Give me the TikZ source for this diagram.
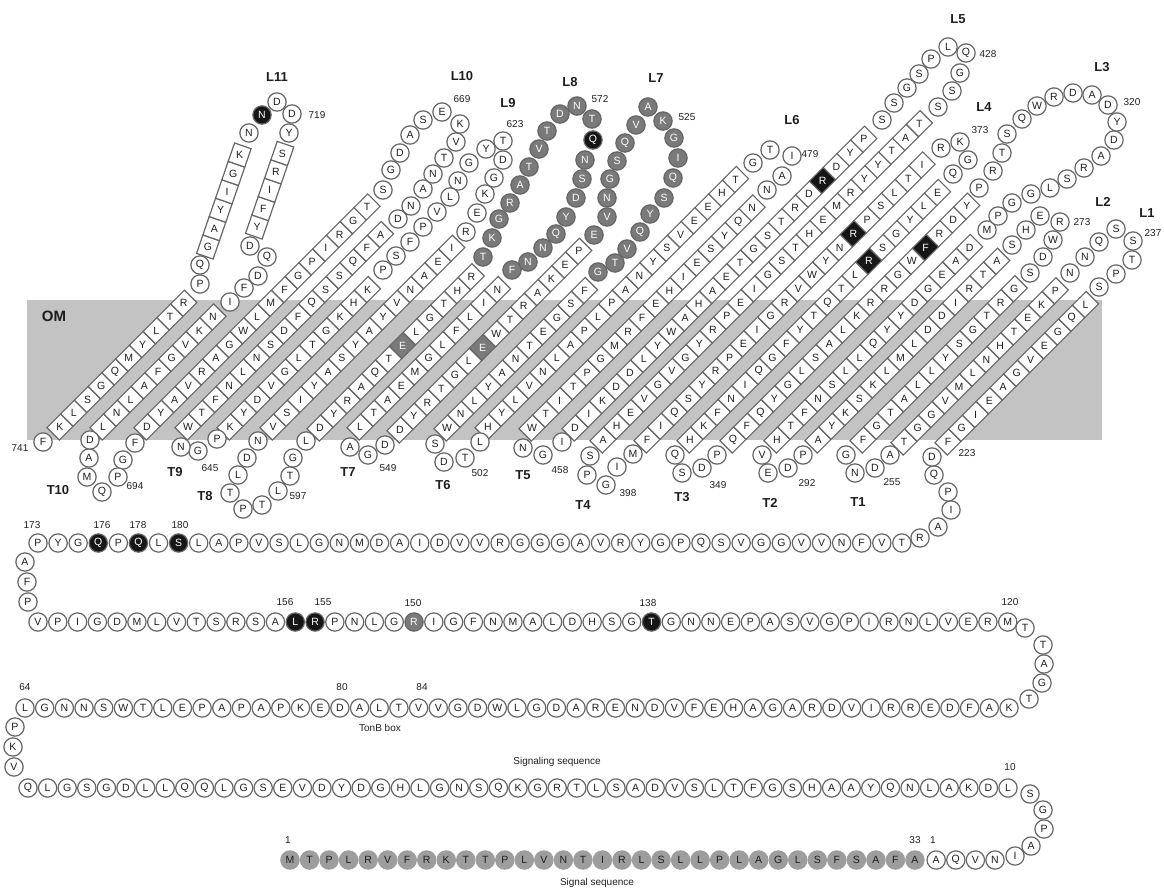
\documentclass[tikz,border=0pt]{standalone}
\usepackage{fontspec}
\setmainfont{Liberation Sans}
\usetikzlibrary{positioning}
\definecolor{Edge}{HTML}{666666}
\definecolor{Membrane}{HTML}{C3C3C3}
\definecolor{Dark}{HTML}{161616}
\definecolor{Mid}{HTML}{7A7A7A}
\definecolor{Signal}{HTML}{9D9D9D}
\definecolor{Ink}{HTML}{1E1E1E}
\newcommand{\resfont}{\fontsize{10.5}{10.5}\selectfont}
\newcommand{\numfont}{\fontsize{10}{10}\selectfont}
\newcommand{\tagfont}{\fontsize{13}{13}\selectfont\bfseries}
\newcommand{\setkind}[2]{\foreach \n in {#2}{\expandafter\xdef\csname #1\n\endcsname{}}}
\newcommand{\paint}[1]{\def\fc{white}\def\tc{Ink}%
  \ifcsname mid#1\endcsname\def\fc{Mid}\def\tc{white}\fi
  \ifcsname dark#1\endcsname\def\fc{Dark}\def\tc{white}\fi}
\newcommand{\strand}[6]{%
  \foreach \res [count=\i from 0] in {#6}{%
    \pgfmathtruncatemacro{\num}{#4+(#5)*\i}\paint{\num}%
    \node[resbox, rotate=#3, fill=\fc, text=\tc] (r\num)
      at ({#1+19.45*\i*cos(#3)},{#2-19.45*\i*sin(#3)}) {\rotatebox{-#3}{\res}};}}
\newcommand{\beads}[3]{%
  \foreach \res/\px/\py [count=\i from 0] in {#3}{%
    \pgfmathtruncatemacro{\num}{#1+(#2)*\i}\paint{\num}%
    \node[bead, fill=\fc, text=\tc] (r\num) at (\px,\py) {\res};}}
\newcommand{\chain}[8]{%
  \foreach \res [count=\i from 0] in {#8}{%
    \pgfmathtruncatemacro{\num}{#3+(#4)*\i}\paint{\num}%
    \node[bead, fill=\fc, text=\tc, #1] (#2\num) at ({#5+(#6)*\i},#7) {\res};}}
\setkind{dark}{176,178,180,156,155,138,570,721,333,365,380,438}
\setkind{mid}{150,541,587}
\setkind{mid}{516,...,533}
\setkind{mid}{562,...,581}

\begin{document}
\begin{tikzpicture}[x=1pt, y=-1pt,
    bead/.style={circle, draw=Edge, line width=1.2pt, minimum size=18.3pt, inner sep=0pt, font=\resfont},
    resbox/.style={rectangle, draw=Edge, line width=1.2pt, minimum width=19.45pt, minimum height=17.5pt, inner sep=0pt, font=\resfont},
    sigbead/.style={fill=Signal, draw=Signal, text=Ink},
    numlbl/.style={font=\numfont, text=Ink, inner sep=1pt},
    taglbl/.style={font=\tagfont, text=Ink, inner sep=1pt}
  ]
  \useasboundingbox (0,0) rectangle (1164,889);
  \fill[Membrane] (27,300) rectangle (1102,440);
  \node[taglbl, font=\fontsize{15}{15}\selectfont\bfseries] (om) at (54,316) {OM};

  % barrel strands
  \strand{948}{442}{45}{223}{1}{F,G,I,E,A,G,V,E,G,Q,L}
  \strand{904}{442}{45}{253}{-1}{T,G,G,V,M,L,N,H,T,E,K,P}
  \strand{863}{440}{45}{258}{1}{F,G,T,A,L,L,Y,S,G,T,R,G}
  \strand{818}{440}{45}{290}{-1}{A,Y,K,S,K,L,M,L,D,D,I,R,T,A}
  \strand{777}{440}{45}{295}{1}{H,T,F,N,S,L,L,Q,Y,Y,D,G,E,A,D}
  \strand{733}{440}{45}{347}{-1}{Q,F,Q,Y,G,L,S,A,L,K,R,R,G,W,F,R,D,Y}
  \strand{690}{440}{45}{352}{1}{H,K,F,N,I,Q,G,F,Y,T,Q,T,L,R,S,G,Y,L,E}
  \strand{647}{440}{45}{395}{-1}{F,I,Q,S,Y,R,P,E,I,G,R,V,W,Y,N,R,P,S,L,T,I}
  \strand{603}{440}{45}{401}{1}{A,H,E,V,G,V,G,Y,R,P,E,I,G,S,T,H,E,M,R,Y,Y,T,A,T}
  \strand{575}{428}{45}{456}{-1}{D,I,K,D,D,L,Y,W,A,H,A,E,T,G,S,T,R,D,R,D,Y,P}
  \strand{532}{428}{45}{460}{1}{W,T,I,T,P,G,M,R,F,E,H,I,E,S,Y,Q,N}
  \strand{488}{427}{45}{500}{-1}{H,Y,L,V,N,L,A,P,L,P,A,N,Y,S,V,E,E,H,T}
  \strand{447}{428}{45}{505}{1}{W,N,L,Y,A,N,T,E,G,S,F}
  \strand{400}{430}{45}{547}{-1}{D,Y,R,T,G,L,E,W,T,R,A,K,E,P}
  \strand{360}{427}{45}{551}{1}{L,T,A,E,M,G,L,F,L,I,N}
  \strand{320}{428}{45}{593}{-1}{D,Y,R,A,Q,T,E,L,G,T,H,R}
  \strand{273}{427}{45}{604}{1}{V,S,I,Y,A,S,Y,A,Y,V,N,A,E,I}
  \strand{230}{427}{45}{643}{-1}{K,Y,D,V,G,L,T,G,K,H,K}
  \strand{188}{427}{45}{647}{1}{W,T,F,N,L,N,S,D,F,Q,S,S,Q,F,A}
  \strand{147}{427}{45}{691}{-1}{D,Y,A,V,R,A,G,W,L,M,F,G,P,I,R,G,T}
  \strand{103}{427}{45}{699}{1}{L,N,L,A,F,G,V,K,N}
  \strand{257}{227}{71}{713}{1}{Y,F,I,R,S}
  \strand{208}{247}{71}{728}{-1}{G,A,Y,I,G,K}
  \strand{60}{427}{45}{740}{-1}{K,L,S,G,Q,M,Y,L,T,R}

  % loops and turns
  \beads{234}{1}{S/1099/287, P/1116/274, T/1132/260, S/1133/241, S/1116/229, Q/1099/242, N/1085/257, N/1070/273}
  \beads{254}{1}{A/890/455, D/875/468, N/855/473, G/846/455}
  \beads{270}{1}{S/1030/273, D/1043/257, W/1053/240, R/1060/222, E/1040/216, H/1026/230, S/1012/245}
  \beads{291}{1}{P/803/455, D/788/468, E/768/473, V/762/455}
  \beads{310}{1}{M/987/230, P/998/216, G/1012/203, G/1031/194, L/1050/188, S/1067/179, R/1084/168, A/1101/156, D/1114/140, Y/1117/122, D/1108/105, A/1092/95, D/1073/93, R/1054/97, W/1037/106, Q/1022/119, S/1007/134, T/1002/153, R/993/171, P/979/188}
  \beads{348}{1}{P/717/455, D/702/468, S/682/473, Q/675/455}
  \beads{371}{1}{Q/953/174, G/968/160, K/960/142, R/941/148}
  \beads{396}{1}{M/633/454, I/617/467, G/606/485, P/587/475, S/590/456}
  \beads{425}{1}{S/938/107, S/952/91, G/960/73, Q/966/53, L/948/47, P/931/59, S/919/74, G/907/88, S/894/103, S/882/120}
  \beads{457}{1}{I/562/442, G/543/455, N/523/448}
  \beads{477}{1}{N/767/190, A/782/176, I/792/156, T/770/150, G/753/163}
  \beads{501}{1}{L/480/442, T/465/458, D/444/462, S/435/444}
  \beads{516}{1}{G/598/272, T/615/263, V/627/249, Q/640/232, Y/650/214, S/664/198, Q/673/178, I/678/158, G/674/138, K/663/121, A/648/107, V/636/125, Q/625/143, S/617/161, G/610/179, N/607/198, V/607/217, E/594/235}
  \beads{548}{1}{D/385/445, G/368/455, A/350/447}
  \beads{562}{1}{F/512/270, N/528/262, N/543/248, Q/556/234, Y/566/217, D/576/198, S/582/179, N/585/160, Q/593/140, T/592/119, N/577/106, D/560/114, T/547/131, V/539/149, T/529/167, A/520/185, R/510/203, G/499/219, K/492/238, T/483/257}
  \beads{594}{1}{L/306/441, G/293/458, T/290/476, L/278/491, T/262/505, P/243/509, T/230/493, L/238/475, D/247/458, N/258/441}
  \beads{618}{1}{R/466/232, E/477/213, K/485/194, G/494/178, D/503/160, T/503/141, Y/486/149, G/469/163, N/458/181, L/450/197, V/437/212, P/423/227, F/410/242, S/396/256, P/383/270}
  \beads{644}{1}{P/217/439, G/198/451, N/181/447}
  \beads{662}{1}{D/398/219, N/411/206, A/423/189, N/433/174, T/444/158, V/456/142, K/460/124, E/442/112, S/423/120, A/410/135, D/400/153, G/391/170, S/383/190}
  \beads{692}{1}{F/135/443, G/123/460, P/118/477, Q/102/492, M/87/477, A/89/458, D/90/440}
  \beads{708}{1}{I/230/302, F/244/288, D/258/276, Q/267/257, D/250/246}
  \beads{718}{1}{Y/289/133, D/292/114, D/277/102, N/262/115, N/249/133}
  \beads{729}{1}{Q/200/265, P/200/284}
  \beads{741}{1}{F/43/442}

  % periplasmic part
  \beads{170}{1}{P/28/602, F/27/582, A/25/562}
  \chain{}{r}{173}{1}{38}{20.09}{543}{P,Y,G,Q,P,Q,L,S,L,A,P,V,S,L,G,N,M,D,A,I,D,V,V,R,G,G,G,A,V,R,Y,G,P,Q,S,V,G,G,V,V,N,F,V,T}
  \beads{217}{1}{R/920/538, A/938/527, I/951/510, P/948/492, Q/934/475, D/932/457}
  \chain{}{r}{169}{-1}{38}{19.79}{622}{V,P,I,G,D,M,L,V,T,S,R,S,A,L,R,P,N,L,G,R,I,G,F,N,M,A,L,D,H,S,G,T,G,N,N,E,P,A,S,V,G,P,I,R,N,L,V,E,R,M}
  \beads{119}{-1}{T/1025/628, T/1043/645, A/1044/664, G/1042/683, T/1029/699}
  \chain{}{r}{64}{1}{25}{19.68}{708}{L,G,N,N,S,W,T,L,E,P,A,P,A,P,K,E,D,A,L,T,V,V,G,D,W,L,G,D,A,R,E,N,D,V,F,E,H,A,G,A,R,D,V,I,R,R,E,D,F,A,K}
  \beads{63}{-1}{P/15/727, K/13/747, V/14/767}
  \chain{}{r}{60}{-1}{28}{19.6}{788}{Q,L,G,S,G,D,L,L,Q,Q,L,G,S,E,V,D,Y,D,G,H,L,G,N,S,Q,K,G,R,T,L,S,A,D,V,S,L,T,F,G,S,H,A,A,Y,Q,N,L,A,K,D,L}
  \beads{9}{-1}{S/1030/794, G/1043/810, P/1044/829, A/1031/846, I/1015/856}
  \chain{}{r}{4}{-1}{995}{-19.6}{860}{N,V,Q,A}
  \chain{sigbead}{s}{1}{1}{290}{19.53}{860}{M,T,P,L,R,V,F,R,K,T,T,P,L,V,N,T,I,R,L,S,L,L,P,L,A,G,L,S,F,S,A,F,A}

  % numbers
  \node[numlbl] (n173) at (32,525) {173};
  \node[numlbl] (n176) at (102,525) {176};
  \node[numlbl] (n178) at (138,525) {178};
  \node[numlbl] (n180) at (180,525) {180};
  \node[numlbl] (n156) at (285,602) {156};
  \node[numlbl] (n155) at (323,602) {155};
  \node[numlbl] (n150) at (413,603) {150};
  \node[numlbl] (n138) at (648,603) {138};
  \node[numlbl] (n120) at (1010,602) {120};
  \node[numlbl] (n64) at (25,687) {64};
  \node[numlbl] (n80) at (342,687) {80};
  \node[numlbl] (n84) at (422,687) {84};
  \node[numlbl] (n10) at (1010,767) {10};
  \node[numlbl] (nsig1) at (288,840) {1};
  \node[numlbl] (n33) at (915,840) {33};
  \node[numlbl] (nmat1) at (933,840) {1};
  \node[numlbl] (n741) at (20,448) {741};
  \node[numlbl] (n694) at (135,486) {694};
  \node[numlbl] (n645) at (210,468) {645};
  \node[numlbl] (n597) at (298,496) {597};
  \node[numlbl] (n549) at (388,468) {549};
  \node[numlbl] (n502) at (480,473) {502};
  \node[numlbl] (n458) at (560,470) {458};
  \node[numlbl] (n398) at (628,493) {398};
  \node[numlbl] (n349) at (718,485) {349};
  \node[numlbl] (n292) at (807,483) {292};
  \node[numlbl] (n255) at (892,482) {255};
  \node[numlbl] (n223) at (967,453) {223};
  \node[numlbl] (n237) at (1153,233) {237};
  \node[numlbl] (n273) at (1082,222) {273};
  \node[numlbl] (n320) at (1132,102) {320};
  \node[numlbl] (n428) at (988,54) {428};
  \node[numlbl] (n373) at (980,130) {373};
  \node[numlbl] (n479) at (810,154) {479};
  \node[numlbl] (n525) at (687,117) {525};
  \node[numlbl] (n572) at (600,99) {572};
  \node[numlbl] (n623) at (515,124) {623};
  \node[numlbl] (n669) at (462,99) {669};
  \node[numlbl] (n719) at (317,115) {719};

  % loop and turn names
  \node[taglbl] (tL1) at (1147,213) {L1};
  \node[taglbl] (tL2) at (1103,202) {L2};
  \node[taglbl] (tL3) at (1102,67) {L3};
  \node[taglbl] (tL4) at (984,107) {L4};
  \node[taglbl] (tL5) at (958,19) {L5};
  \node[taglbl] (tL6) at (792,120) {L6};
  \node[taglbl] (tL7) at (656,78) {L7};
  \node[taglbl] (tL8) at (570,82) {L8};
  \node[taglbl] (tL9) at (508,103) {L9};
  \node[taglbl] (tL10) at (462,76) {L10};
  \node[taglbl] (tL11) at (277,77) {L11};
  \node[taglbl] (tT1) at (858,502) {T1};
  \node[taglbl] (tT2) at (770,503) {T2};
  \node[taglbl] (tT3) at (682,497) {T3};
  \node[taglbl] (tT4) at (583,505) {T4};
  \node[taglbl] (tT5) at (523,475) {T5};
  \node[taglbl] (tT6) at (443,485) {T6};
  \node[taglbl] (tT7) at (348,472) {T7};
  \node[taglbl] (tT8) at (205,496) {T8};
  \node[taglbl] (tT9) at (175,472) {T9};
  \node[taglbl] (tT10) at (58,490) {T10};

  \node[numlbl] (tonb) at (380,728) {TonB box};
  \node[numlbl] (signaling) at (557,762) {Signaling sequence};
  \node[numlbl] (signal) at (597,883) {Signal sequence};
\end{tikzpicture}
\end{document}
